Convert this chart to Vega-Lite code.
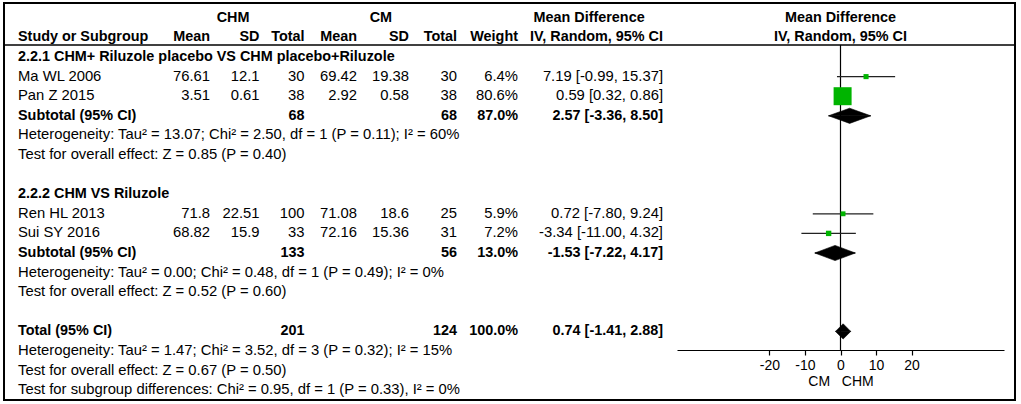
{
  "$schema": "https://vega.github.io/schema/vega-lite/v6.json",
  "width": 1021,
  "height": 404,
  "autosize": {"type": "fit", "contains": "padding"},
  "padding": {"left": 3, "top": 3, "right": 5, "bottom": 4},
  "background": "white",
  "config": {"view": {"stroke": "#000", "strokeWidth": 2}},
  "datasets": {
    "tbl": [
      {"row": 1, "kind": "header", "label": "Study or Subgroup", "chm_mean": "Mean", "chm_sd": "SD", "chm_total": "Total", "cm_mean": "Mean", "cm_sd": "SD", "cm_total": "Total", "weight": "Weight", "md_ci": "IV, Random, 95% CI"},
      {"row": 2, "kind": "group", "label": "2.2.1 CHM+ Riluzole placebo VS CHM placebo+Riluzole"},
      {"row": 3, "kind": "study", "label": "Ma WL 2006", "chm_mean": "76.61", "chm_sd": "12.1", "chm_total": "30", "cm_mean": "69.42", "cm_sd": "19.38", "cm_total": "30", "weight": "6.4%", "md_ci": "7.19 [-0.99, 15.37]", "md": 7.19, "lo": -0.99, "hi": 15.37, "w": 6.4},
      {"row": 4, "kind": "study", "label": "Pan Z 2015", "chm_mean": "3.51", "chm_sd": "0.61", "chm_total": "38", "cm_mean": "2.92", "cm_sd": "0.58", "cm_total": "38", "weight": "80.6%", "md_ci": "0.59 [0.32, 0.86]", "md": 0.59, "lo": 0.32, "hi": 0.86, "w": 80.6},
      {"row": 5, "kind": "subtotal", "label": "Subtotal (95% CI)", "chm_total": "68", "cm_total": "68", "weight": "87.0%", "md_ci": "2.57 [-3.36, 8.50]"},
      {"row": 6, "kind": "note", "label": "Heterogeneity: Tau² = 13.07; Chi² = 2.50, df = 1 (P = 0.11); I² = 60%"},
      {"row": 7, "kind": "note", "label": "Test for overall effect: Z = 0.85 (P = 0.40)"},
      {"row": 9, "kind": "group", "label": "2.2.2 CHM VS Riluzole"},
      {"row": 10, "kind": "study", "label": "Ren HL 2013", "chm_mean": "71.8", "chm_sd": "22.51", "chm_total": "100", "cm_mean": "71.08", "cm_sd": "18.6", "cm_total": "25", "weight": "5.9%", "md_ci": "0.72 [-7.80, 9.24]", "md": 0.72, "lo": -7.80, "hi": 9.24, "w": 5.9},
      {"row": 11, "kind": "study", "label": "Sui SY 2016", "chm_mean": "68.82", "chm_sd": "15.9", "chm_total": "33", "cm_mean": "72.16", "cm_sd": "15.36", "cm_total": "31", "weight": "7.2%", "md_ci": "-3.34 [-11.00, 4.32]", "md": -3.34, "lo": -11.00, "hi": 4.32, "w": 7.2},
      {"row": 12, "kind": "subtotal", "label": "Subtotal (95% CI)", "chm_total": "133", "cm_total": "56", "weight": "13.0%", "md_ci": "-1.53 [-7.22, 4.17]"},
      {"row": 13, "kind": "note", "label": "Heterogeneity: Tau² = 0.00; Chi² = 0.48, df = 1 (P = 0.49); I² = 0%"},
      {"row": 14, "kind": "note", "label": "Test for overall effect: Z = 0.52 (P = 0.60)"},
      {"row": 16, "kind": "subtotal", "label": "Total (95% CI)", "chm_total": "201", "cm_total": "124", "weight": "100.0%", "md_ci": "0.74 [-1.41, 2.88]"},
      {"row": 17, "kind": "note", "label": "Heterogeneity: Tau² = 1.47; Chi² = 3.52, df = 3 (P = 0.32); I² = 15%"},
      {"row": 18, "kind": "note", "label": "Test for overall effect: Z = 0.67 (P = 0.50)"},
      {"row": 19, "kind": "note", "label": "Test for subgroup differences: Chi² = 0.95, df = 1 (P = 0.33), I² = 0%"}
    ],
    "diam": [
      {"g": "2.2.1", "row": 5, "part": "CI limit", "x": -3.36},
      {"g": "2.2.1", "row": 5, "part": "estimate", "x": 2.57},
      {"g": "2.2.1", "row": 5, "part": "CI limit", "x": 8.50},
      {"g": "2.2.2", "row": 12, "part": "CI limit", "x": -7.22},
      {"g": "2.2.2", "row": 12, "part": "estimate", "x": -1.53},
      {"g": "2.2.2", "row": 12, "part": "CI limit", "x": 4.17},
      {"g": "Total", "row": 16, "part": "CI limit", "x": -1.41},
      {"g": "Total", "row": 16, "part": "estimate", "x": 0.74},
      {"g": "Total", "row": 16, "part": "CI limit", "x": 2.88}
    ]
  },
  "layer": [
    {
      "data": {"name": "tbl"},
      "layer": [
        {
          "data": {"values": [{}]},
          "mark": {"type": "rule", "color": "#000", "strokeWidth": 1.5, "yOffset": 7.6},
          "encoding": {
            "y": {"datum": 1, "type": "ordinal", "scale": {"type": "point", "domain": [0,1,2,3,4,5,6,7,8,9,10,11,12,13,14,15,16,17,18,19], "padding": 0.628, "align": 0.6016}, "axis": null}
          }
        },
        {
          "mark": {"type": "text", "align": "left", "font": "Liberation Sans", "color": "#000",
                   "fontSize": {"expr": "datum.kind == 'study' || datum.kind == 'note' ? 14.8 : 14.4"},
                   "fontWeight": {"expr": "datum.kind == 'study' || datum.kind == 'note' ? 'normal' : 'bold'"}},
          "encoding": {
            "x": {"datum": 0, "type": "quantitative", "scale": {"type": "linear", "domain": [0,1,2,3,4,5,6,7,8], "range": [14,206,255.5,300.5,353,405,453,514,659], "nice": false, "zero": false}, "axis": null},
            "y": {"field": "row", "type": "ordinal", "scale": {"type": "point", "domain": [0,1,2,3,4,5,6,7,8,9,10,11,12,13,14,15,16,17,18,19], "padding": 0.628, "align": 0.6016}, "axis": null},
            "text": {"field": "label"}
          }
        },
        {
          "transform": [{"filter": "isValid(datum.chm_mean)"}],
          "mark": {"type": "text", "align": "right", "font": "Liberation Sans", "color": "#000",
                   "fontSize": {"expr": "datum.kind == 'study' || datum.kind == 'note' ? 14.8 : 14.4"},
                   "fontWeight": {"expr": "datum.kind == 'study' || datum.kind == 'note' ? 'normal' : 'bold'"}},
          "encoding": {
            "x": {"datum": 1, "type": "quantitative", "axis": null},
            "y": {"field": "row", "type": "ordinal", "axis": null},
            "text": {"field": "chm_mean"}
          }
        },
        {
          "transform": [{"filter": "isValid(datum.chm_sd)"}],
          "mark": {"type": "text", "align": "right", "font": "Liberation Sans", "color": "#000",
                   "fontSize": {"expr": "datum.kind == 'study' || datum.kind == 'note' ? 14.8 : 14.4"},
                   "fontWeight": {"expr": "datum.kind == 'study' || datum.kind == 'note' ? 'normal' : 'bold'"}},
          "encoding": {
            "x": {"datum": 2, "type": "quantitative", "axis": null},
            "y": {"field": "row", "type": "ordinal", "axis": null},
            "text": {"field": "chm_sd"}
          }
        },
        {
          "transform": [{"filter": "isValid(datum.chm_total)"}],
          "mark": {"type": "text", "align": "right", "font": "Liberation Sans", "color": "#000",
                   "fontSize": {"expr": "datum.kind == 'study' || datum.kind == 'note' ? 14.8 : 14.4"},
                   "fontWeight": {"expr": "datum.kind == 'study' || datum.kind == 'note' ? 'normal' : 'bold'"}},
          "encoding": {
            "x": {"datum": 3, "type": "quantitative", "axis": null},
            "y": {"field": "row", "type": "ordinal", "axis": null},
            "text": {"field": "chm_total"}
          }
        },
        {
          "transform": [{"filter": "isValid(datum.cm_mean)"}],
          "mark": {"type": "text", "align": "right", "font": "Liberation Sans", "color": "#000",
                   "fontSize": {"expr": "datum.kind == 'study' || datum.kind == 'note' ? 14.8 : 14.4"},
                   "fontWeight": {"expr": "datum.kind == 'study' || datum.kind == 'note' ? 'normal' : 'bold'"}},
          "encoding": {
            "x": {"datum": 4, "type": "quantitative", "axis": null},
            "y": {"field": "row", "type": "ordinal", "axis": null},
            "text": {"field": "cm_mean"}
          }
        },
        {
          "transform": [{"filter": "isValid(datum.cm_sd)"}],
          "mark": {"type": "text", "align": "right", "font": "Liberation Sans", "color": "#000",
                   "fontSize": {"expr": "datum.kind == 'study' || datum.kind == 'note' ? 14.8 : 14.4"},
                   "fontWeight": {"expr": "datum.kind == 'study' || datum.kind == 'note' ? 'normal' : 'bold'"}},
          "encoding": {
            "x": {"datum": 5, "type": "quantitative", "axis": null},
            "y": {"field": "row", "type": "ordinal", "axis": null},
            "text": {"field": "cm_sd"}
          }
        },
        {
          "transform": [{"filter": "isValid(datum.cm_total)"}],
          "mark": {"type": "text", "align": "right", "font": "Liberation Sans", "color": "#000",
                   "fontSize": {"expr": "datum.kind == 'study' || datum.kind == 'note' ? 14.8 : 14.4"},
                   "fontWeight": {"expr": "datum.kind == 'study' || datum.kind == 'note' ? 'normal' : 'bold'"}},
          "encoding": {
            "x": {"datum": 6, "type": "quantitative", "axis": null},
            "y": {"field": "row", "type": "ordinal", "axis": null},
            "text": {"field": "cm_total"}
          }
        },
        {
          "transform": [{"filter": "isValid(datum.weight)"}],
          "mark": {"type": "text", "align": "right", "font": "Liberation Sans", "color": "#000",
                   "fontSize": {"expr": "datum.kind == 'study' || datum.kind == 'note' ? 14.8 : 14.4"},
                   "fontWeight": {"expr": "datum.kind == 'study' || datum.kind == 'note' ? 'normal' : 'bold'"}},
          "encoding": {
            "x": {"datum": 7, "type": "quantitative", "axis": null},
            "y": {"field": "row", "type": "ordinal", "axis": null},
            "text": {"field": "weight"}
          }
        },
        {
          "transform": [{"filter": "isValid(datum.md_ci)"}],
          "mark": {"type": "text", "align": "right", "font": "Liberation Sans", "color": "#000",
                   "fontSize": {"expr": "datum.kind == 'study' || datum.kind == 'note' ? 14.8 : 14.4"},
                   "fontWeight": {"expr": "datum.kind == 'study' || datum.kind == 'note' ? 'normal' : 'bold'"}},
          "encoding": {
            "x": {"datum": 8, "type": "quantitative", "axis": null},
            "y": {"field": "row", "type": "ordinal", "axis": null},
            "text": {"field": "md_ci"}
          }
        },
        {
          "data": {"values": [{"row": 0, "label": "CHM"}]},
          "mark": {"type": "text", "align": "center", "font": "Liberation Sans", "color": "#000", "fontSize": 14.4, "fontWeight": "bold"},
          "encoding": {
            "x": {"datum": 1.465, "type": "quantitative", "axis": null},
            "y": {"field": "row", "type": "ordinal", "axis": null},
            "text": {"field": "label"}
          }
        },
        {
          "data": {"values": [{"row": 0, "label": "CM"}]},
          "mark": {"type": "text", "align": "center", "font": "Liberation Sans", "color": "#000", "fontSize": 14.4, "fontWeight": "bold"},
          "encoding": {
            "x": {"datum": 4.46, "type": "quantitative", "axis": null},
            "y": {"field": "row", "type": "ordinal", "axis": null},
            "text": {"field": "label"}
          }
        },
        {
          "data": {"values": [{"row": 0, "label": "Mean Difference"}]},
          "mark": {"type": "text", "align": "center", "font": "Liberation Sans", "color": "#000", "fontSize": 14.4, "fontWeight": "bold"},
          "encoding": {
            "x": {"datum": 7.49, "type": "quantitative", "axis": null},
            "y": {"field": "row", "type": "ordinal", "axis": null},
            "text": {"field": "label"}
          }
        }
      ]
    },
    {
      "layer": [
        {
          "data": {"values": [{}]},
          "mark": {"type": "rule", "color": "#000", "strokeWidth": 1.2, "yOffset": -12, "y2Offset": -1},
          "encoding": {
            "x": {"datum": 0, "type": "quantitative",
                  "scale": {"type": "linear", "domain": [-46, 46], "range": [673, 1000], "nice": false, "zero": false},
                  "axis": {"orient": "bottom", "offset": -50, "values": [-20, -10, 0, 10, 20], "labelExpr": "datum.value",
                           "grid": false, "tickSize": 5, "tickWidth": 1.2, "tickColor": "#000", "domainColor": "#000", "domainWidth": 1.2,
                           "labelFont": "Liberation Sans", "labelFontSize": 14, "labelColor": "#000", "labelPadding": 3,
                           "title": "CM\u00a0\u00a0\u00a0CHM", "titleFont": "Liberation Sans", "titleFontSize": 14, "titleFontWeight": "normal", "titleColor": "#000", "titlePadding": 2,
                           "encode": {"ticks": {"update": {"y": {"value": -5}}}}}},
            "y": {"datum": 2, "type": "ordinal", "axis": null},
            "y2": {"datum": 17}
          }
        },
        {
          "data": {"name": "tbl"},
          "transform": [{"filter": "datum.kind == 'study'"}],
          "mark": {"type": "rule", "color": "#222", "strokeWidth": 1.3},
          "encoding": {
            "x": {"field": "lo", "type": "quantitative"},
            "x2": {"field": "hi"},
            "y": {"field": "row", "type": "ordinal", "axis": null}
          }
        },
        {
          "data": {"name": "tbl"},
          "transform": [{"filter": "datum.kind == 'study'"}],
          "mark": {"type": "point", "shape": "square", "filled": true, "color": "#00b400", "opacity": 1, "strokeWidth": 0},
          "encoding": {
            "x": {"field": "md", "type": "quantitative"},
            "y": {"field": "row", "type": "ordinal", "axis": null},
            "size": {"field": "w", "type": "quantitative", "scale": {"domain": [0, 80.6], "range": [0, 324]}, "legend": null}
          }
        },
        {
          "data": {"name": "diam"},
          "layer": [
            {
              "mark": {"type": "area", "orient": "vertical", "fill": "#000", "stroke": "#000", "strokeWidth": 0.6, "interpolate": "linear"},
              "encoding": {
                "x": {"field": "x", "type": "quantitative", "stack": null},
                "y": {"field": "row", "type": "ordinal", "axis": null},
                "y2": {"field": "row"},
                "yOffset": {"field": "part", "type": "nominal", "scale": {"type": "point", "domain": ["CI limit", "estimate"], "range": [0, -7.6], "padding": 0}},
                "detail": {"field": "g"}
              }
            },
            {
              "mark": {"type": "area", "orient": "vertical", "fill": "#000", "stroke": "#000", "strokeWidth": 0.6, "interpolate": "linear"},
              "encoding": {
                "x": {"field": "x", "type": "quantitative", "stack": null},
                "y": {"field": "row", "type": "ordinal", "axis": null},
                "y2": {"field": "row"},
                "yOffset": {"field": "part", "type": "nominal", "scale": {"type": "point", "domain": ["CI limit", "estimate"], "range": [0, 7.6], "padding": 0}},
                "detail": {"field": "g"}
              }
            }
          ],
          "resolve": {"scale": {"yOffset": "independent"}}
        },
        {
          "data": {"values": [{"row": 0, "label": "Mean Difference"}, {"row": 1, "label": "IV, Random, 95% CI"}]},
          "mark": {"type": "text", "align": "center", "font": "Liberation Sans", "color": "#000", "fontSize": 14.4, "fontWeight": "bold"},
          "encoding": {
            "x": {"datum": 0, "type": "quantitative"},
            "y": {"field": "row", "type": "ordinal", "axis": null},
            "text": {"field": "label"}
          }
        }
      ]
    }
  ],
  "resolve": {"scale": {"x": "independent"}}
}
